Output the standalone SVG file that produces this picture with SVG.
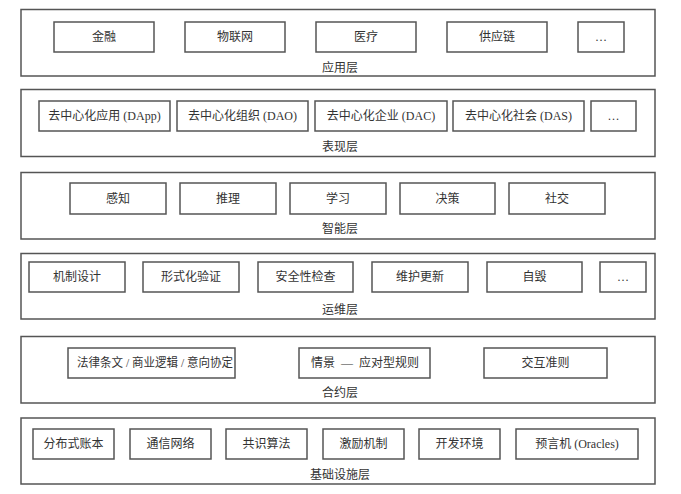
<svg xmlns="http://www.w3.org/2000/svg" width="681" height="494" viewBox="0 0 681 494">
<style>
.layer{fill:#fff;stroke:#555;stroke-width:1.5}
.box{fill:#fff;stroke:#555;stroke-width:1.5}
text{font-family:"Liberation Serif","Noto Sans CJK SC",serif;font-size:12px;fill:#333;text-anchor:middle;dominant-baseline:central}
</style>
<rect width="681" height="494" fill="#fff"/>
<g id="layer-app">
<rect class="layer" x="21" y="9.5" width="634" height="66.5"/>
<text x="340" y="68">应用层</text>
<g id="n-jinrong"><rect class="box" x="54" y="22" width="100" height="30"/><text x="104" y="37">金融</text></g>
<g id="n-wulianwang"><rect class="box" x="185" y="22" width="100" height="30"/><text x="235" y="37">物联网</text></g>
<g id="n-yiliao"><rect class="box" x="316" y="22" width="100" height="30"/><text x="366" y="37">医疗</text></g>
<g id="n-gongyinglian"><rect class="box" x="447" y="22" width="100" height="30"/><text x="497" y="37">供应链</text></g>
<g id="n-app-more"><rect class="box" x="578" y="22" width="46" height="30"/><text x="601" y="37">…</text></g>
</g>
<g id="layer-pres">
<rect class="layer" x="21" y="89.5" width="634" height="67"/>
<text x="340" y="147">表现层</text>
<g id="n-dapp"><rect class="box" x="39" y="101" width="131" height="30"/><text x="104.5" y="116">去中心化应用 (DApp)</text></g>
<g id="n-dao"><rect class="box" x="177" y="101" width="131" height="30"/><text x="242.5" y="116">去中心化组织 (DAO)</text></g>
<g id="n-dac"><rect class="box" x="315" y="101" width="132" height="30"/><text x="381" y="116">去中心化企业 (DAC)</text></g>
<g id="n-das"><rect class="box" x="453" y="101" width="131" height="30"/><text x="518.5" y="116">去中心化社会 (DAS)</text></g>
<g id="n-pres-more"><rect class="box" x="591" y="101" width="45" height="30"/><text x="613.5" y="116">…</text></g>
</g>
<g id="layer-intel">
<rect class="layer" x="21" y="172.5" width="634" height="66.5"/>
<text x="340" y="229">智能层</text>
<g id="n-ganzhi"><rect class="box" x="70" y="183" width="96" height="31"/><text x="118" y="198.5">感知</text></g>
<g id="n-tuili"><rect class="box" x="180" y="183" width="96" height="31"/><text x="228" y="198.5">推理</text></g>
<g id="n-xuexi"><rect class="box" x="290" y="183" width="96" height="31"/><text x="338" y="198.5">学习</text></g>
<g id="n-juece"><rect class="box" x="400" y="183" width="95" height="31"/><text x="447.5" y="198.5">决策</text></g>
<g id="n-shejiao"><rect class="box" x="509" y="183" width="96" height="31"/><text x="557" y="198.5">社交</text></g>
</g>
<g id="layer-ops">
<rect class="layer" x="21" y="253.5" width="634" height="65.5"/>
<text x="340" y="310">运维层</text>
<g id="n-jizhi"><rect class="box" x="29" y="262" width="96" height="30"/><text x="77" y="277">机制设计</text></g>
<g id="n-xingshi"><rect class="box" x="143" y="262" width="96" height="30"/><text x="191" y="277">形式化验证</text></g>
<g id="n-anquan"><rect class="box" x="258" y="262" width="95" height="30"/><text x="305.5" y="277">安全性检查</text></g>
<g id="n-weihu"><rect class="box" x="372" y="262" width="96" height="30"/><text x="420" y="277">维护更新</text></g>
<g id="n-zihui"><rect class="box" x="487" y="262" width="95" height="30"/><text x="534.5" y="277">自毁</text></g>
<g id="n-ops-more"><rect class="box" x="600" y="262" width="46" height="30"/><text x="623" y="277">…</text></g>
</g>
<g id="layer-contract">
<rect class="layer" x="21" y="336.5" width="634" height="66.5"/>
<text x="340" y="393">合约层</text>
<g id="n-falv"><rect class="box" x="68" y="348" width="167" height="30"/><text x="155" y="363" textLength="156" lengthAdjust="spacingAndGlyphs">法律条文 / 商业逻辑 / 意向协定</text></g>
<g id="n-qingjing"><rect class="box" x="299" y="348" width="131" height="30"/><text x="365" y="363" xml:space="preserve">情景  —  应对型规则</text></g>
<g id="n-jiaohu"><rect class="box" x="484" y="348" width="123" height="30"/><text x="545.5" y="363">交互准则</text></g>
</g>
<g id="layer-infra">
<rect class="layer" x="21" y="418" width="634" height="66"/>
<text x="340" y="475">基础设施层</text>
<g id="n-fenbu"><rect class="box" x="33" y="429" width="81" height="30"/><text x="73.5" y="444">分布式账本</text></g>
<g id="n-tongxin"><rect class="box" x="130" y="429" width="81" height="30"/><text x="170.5" y="444">通信网络</text></g>
<g id="n-gongshi"><rect class="box" x="226" y="429" width="81" height="30"/><text x="266.5" y="444">共识算法</text></g>
<g id="n-jili"><rect class="box" x="323" y="429" width="81" height="30"/><text x="363.5" y="444">激励机制</text></g>
<g id="n-kaifa"><rect class="box" x="419" y="429" width="81" height="30"/><text x="459.5" y="444">开发环境</text></g>
<g id="n-yuyan"><rect class="box" x="516" y="429" width="122" height="30"/><text x="577" y="444">预言机 (Oracles)</text></g>
</g>
<g id="connectors"></g>
</svg>
